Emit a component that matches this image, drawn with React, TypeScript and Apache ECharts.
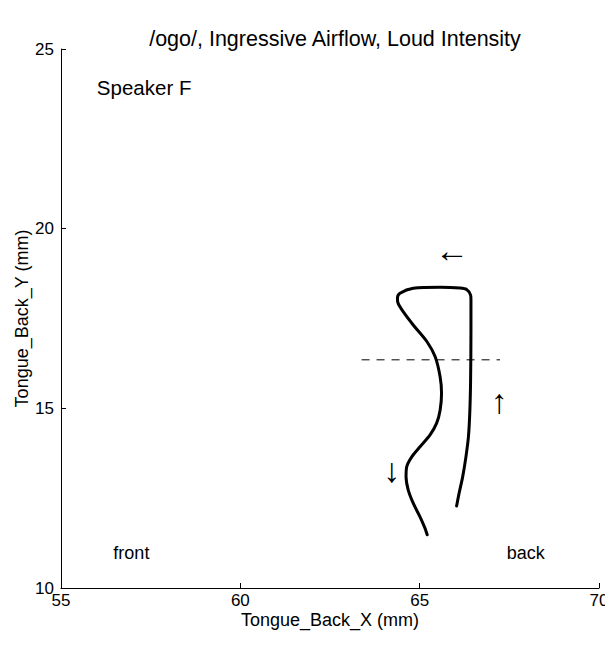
import React, { useEffect, useRef } from "react";
import * as echarts from "echarts";

const titleText = "/ogo/, Ingressive Airflow, Loud Intensity";
const xName = "Tongue_Back_X (mm)";
const yName = "Tongue_Back_Y (mm)";
const xRange = [55, 70];
const yRange = [10, 25];

// Tongue back trajectory (x, y) in mm, in order of motion
const trajX = [66.03, 66.1, 66.2, 66.29, 66.36, 66.4, 66.42, 66.43, 66.43, 66.42, 66.31, 66.12, 65.57, 64.82, 64.45, 64.38, 64.4, 64.54, 64.82, 65.2, 65.43, 65.57, 65.61, 65.57, 65.47, 65.29, 65.01, 64.78, 64.64, 64.62, 64.68, 64.82, 65.01, 65.15, 65.21];
const trajY = [12.28, 12.64, 13.1, 13.65, 14.21, 14.95, 15.79, 17.18, 18.02, 18.15, 18.31, 18.35, 18.37, 18.34, 18.2, 18.06, 17.92, 17.69, 17.32, 16.86, 16.44, 15.88, 15.42, 14.95, 14.58, 14.26, 13.93, 13.65, 13.38, 13.1, 12.73, 12.36, 11.98, 11.66, 11.48];

const dashX = [63.38, 67.24];
const dashY = [16.35, 16.35];

const arrowText = ["←", "↑", "↓"];
const arrowX = [65.9, 67.22, 64.22];
const arrowY = [19.42, 15.2, 13.27];

const speakerText = "Speaker F";
const speakerX = 56.0;
const speakerY = 23.92;

const endText = ["front", "back"];
const endX = [56.46, 67.43];
const endY = [10.97, 10.97];

export default function App() {
  const ref = useRef<HTMLDivElement>(null);
  useEffect(() => {
    if (!ref.current) return;
    const chart = echarts.init(ref.current, undefined, { renderer: "svg" });
    const font = "Liberation Sans, Arial, sans-serif";
    const textLabel = (size: number, align: string) => ({
      show: true,
      position: "inside",
      align,
      verticalAlign: "middle",
      formatter: (p: any) => p.name,
      fontSize: size,
      color: "#000",
      textBorderWidth: 0,
      textBorderColor: "transparent",
      fontFamily: font,
    });
    chart.setOption({
      animation: false,
      textStyle: { fontFamily: font },
      title: {
        text: titleText,
        left: 330,
        textAlign: "center",
        top: 23,
        textStyle: { fontSize: 21.5, fontWeight: "normal", color: "#000", fontFamily: font },
      },
      grid: {
        left: 61,
        right: 6,
        top: 49,
        bottom: 64,
        containLabel: false,
        outerBoundsMode: "none",
      },
      xAxis: {
        type: "value",
        min: xRange[0],
        max: xRange[1],
        interval: 5,
        name: xName,
        nameLocation: "middle",
        nameGap: 23,
        nameMoveOverlap: false,
        nameTextStyle: { fontSize: 18, color: "#000", fontFamily: font },
        axisLine: { lineStyle: { color: "#000", width: 1 } },
        axisTick: { inside: true, length: 5, lineStyle: { color: "#000" } },
        axisLabel: { fontSize: 17, color: "#000", margin: 4, fontFamily: font },
        splitLine: { show: false },
      },
      yAxis: {
        type: "value",
        min: yRange[0],
        max: yRange[1],
        interval: 5,
        name: yName,
        nameLocation: "middle",
        nameGap: 30,
        nameMoveOverlap: false,
        nameTextStyle: { fontSize: 18, color: "#000", fontFamily: font },
        axisLine: { show: true, lineStyle: { color: "#000", width: 1 } },
        axisTick: { show: true, inside: true, length: 5, lineStyle: { color: "#000" } },
        axisLabel: { fontSize: 17, color: "#000", margin: 7, fontFamily: font },
        splitLine: { show: false },
      },
      series: [
        {
          type: "line",
          data: trajX.map((x, i) => [x, trajY[i]]),
          smooth: 0.3,
          showSymbol: false,
          symbol: "none",
          lineStyle: { color: "#000", width: 3, cap: "round", join: "round" },
        },
        {
          type: "line",
          data: dashX.map((x, i) => [x, dashY[i]]),
          showSymbol: false,
          symbol: "none",
          lineStyle: { color: "#000", width: 1, type: [8, 7] },
        },
        {
          type: "scatter",
          symbolSize: 0,
          itemStyle: { color: "#000", opacity: 1 },
          data: arrowX.map((x, i) => ({ value: [x, arrowY[i]], name: arrowText[i] })),
          label: textLabel(34, "center"),
        },
        {
          type: "scatter",
          symbolSize: 0,
          itemStyle: { color: "#000", opacity: 1 },
          data: [{ value: [speakerX, speakerY], name: speakerText }],
          label: textLabel(20.5, "left"),
        },
        {
          type: "scatter",
          symbolSize: 0,
          itemStyle: { color: "#000", opacity: 1 },
          data: endX.map((x, i) => ({ value: [x, endY[i]], name: endText[i] })),
          label: textLabel(18, "left"),
        },
      ],
    });
    return () => chart.dispose();
  }, []);
  return (
    <div
      ref={ref}
      style={{ position: "absolute", left: 0, top: 0, width: 605, height: 652, background: "#fff" }}
    />
  );
}
